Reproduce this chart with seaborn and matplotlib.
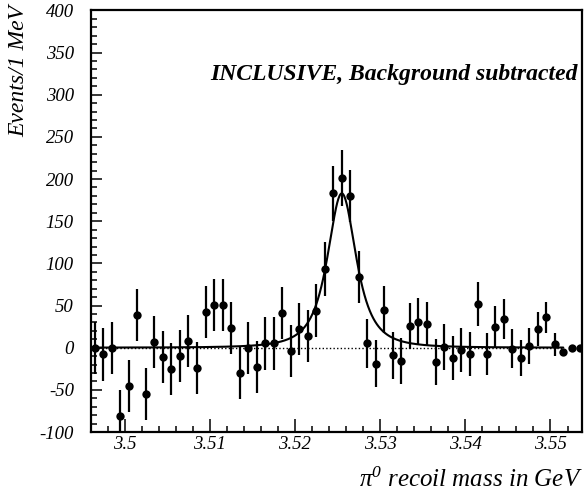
import numpy as np
import pandas as pd
import seaborn as sns
import matplotlib.pyplot as plt
from matplotlib.ticker import MultipleLocator

sns.set_theme(style="ticks")
plt.rcParams['font.family'] = ['Liberation Serif', 'DejaVu Serif']
plt.rcParams['font.style'] = 'italic'
plt.rcParams['mathtext.fontset'] = 'custom'
plt.rcParams['mathtext.rm'] = 'Liberation Serif'
plt.rcParams['mathtext.it'] = 'Liberation Serif:italic'
plt.rcParams['axes.unicode_minus'] = False
plt.rcParams['text.color'] = 'black'
plt.rcParams['xtick.color'] = 'black'
plt.rcParams['ytick.color'] = 'black'
plt.rcParams['xtick.labelcolor'] = 'black'
plt.rcParams['ytick.labelcolor'] = 'black'

# bin centres (GeV), 1 MeV bins
mass = [3.4965, 3.4975, 3.4985, 3.4995, 3.5005, 3.5015, 3.5025, 3.5035, 3.5045, 3.5055,
        3.5065, 3.5075, 3.5085, 3.5095, 3.5105, 3.5115, 3.5125, 3.5135, 3.5145, 3.5155,
        3.5165, 3.5175, 3.5185, 3.5195, 3.5205, 3.5215, 3.5225, 3.5235, 3.5245, 3.5255,
        3.5265, 3.5275, 3.5285, 3.5295, 3.5305, 3.5315, 3.5325, 3.5335, 3.5345, 3.5355,
        3.5365, 3.5375, 3.5385, 3.5395, 3.5405, 3.5415, 3.5425, 3.5435, 3.5445, 3.5455,
        3.5465, 3.5475, 3.5485, 3.5495, 3.5505, 3.5515, 3.5525, 3.5535]
events = [0, -8, 0, -81, -45, 39, -55, 7, -11, -25,
          -10, 8, -24, 42, 51, 51, 23, -30, 0, -23,
          5, 5, 41, -4, 22, 14, 44, 93, 183, 201,
          180, 84, 5, -19, 45, -9, -16, 26, 31, 28,
          -17, 1, -12, -3, -7, 52, -7, 25, 34, -1,
          -12, 2, 22, 36, 4, -5, 0, 0]
errors = [31, 31, 31, 31, 31, 31, 31, 31, 31, 31,
          31, 31, 31, 31, 31, 31, 31, 31, 31, 31,
          31, 31, 31, 31, 31, 31, 31, 32, 33, 33,
          31, 31, 29, 28, 28, 28, 27, 27, 28, 26,
          27, 27, 26, 26, 26, 26, 25, 25, 24, 23,
          21, 21, 20, 18, 14, 2, 0, 0]

# fitted peak
peak_mass = 3.5255
peak_height = 183
peak_width = 0.0026
peak_power = 1.5
fit_lo, fit_hi = 3.496, 3.5515

df = pd.DataFrame({"mass": mass, "events": events, "err": errors})

fig, ax = plt.subplots(figsize=(5.84, 4.96), dpi=100)
fig.subplots_adjust(left=0.155, right=0.9966, bottom=0.129, top=0.979)

fit_x = np.linspace(fit_lo, fit_hi, 800)
fit_y = peak_height / (1 + ((fit_x - peak_mass) / peak_width) ** 2) ** peak_power
ax.hlines(0, fit_lo, fit_hi, colors='black', linewidth=1.0, linestyles=(0, (1, 1.6)))
sns.lineplot(x=fit_x, y=fit_y, color='black', linewidth=1.5, ax=ax)

ax.errorbar(df["mass"], df["events"], yerr=df["err"], fmt='none',
            ecolor='black', elinewidth=1.6, capsize=0, zorder=3)
sns.scatterplot(data=df, x="mass", y="events", color='black', s=36,
                linewidth=0, ax=ax, zorder=4)

ax.set_xlim(3.496, 3.5537)
ax.set_ylim(-100, 400)

ax.set_xticks([3.50, 3.51, 3.52, 3.53, 3.54, 3.55])
ax.set_xticklabels(["3.5", "3.51", "3.52", "3.53", "3.54", "3.55"])
ax.xaxis.set_minor_locator(MultipleLocator(0.002))
ax.yaxis.set_major_locator(MultipleLocator(50))
ax.yaxis.set_minor_locator(MultipleLocator(10))

ax.tick_params(axis='both', which='both', direction='in', color='black', width=1.1,
               labelsize=13.5, labelcolor='black', top=False, right=False)
ax.tick_params(axis='x', which='major', length=9.5, pad=3)
ax.tick_params(axis='x', which='minor', length=4.5)
ax.tick_params(axis='y', which='major', length=8, pad=12)
ax.tick_params(axis='y', which='minor', length=4.5)

for sp in ax.spines.values():
    sp.set_visible(True)
    sp.set_color('black')
    sp.set_linewidth(1.6)

ax.set_xlabel("")
ax.set_ylabel("")

ax.text(0.992, 0.834, "INCLUSIVE, Background subtracted", transform=ax.transAxes,
        ha='right', va='baseline', fontsize=17, fontweight='bold', style='italic',
        color='black')

fig.text(0.998, 0.018, r"$\mathrm{\pi}^{\mathit{0}}$ recoil mass in GeV",
         ha='right', va='baseline', fontsize=18, color='black')
fig.text(0.033, 0.99, "Events/1 MeV", rotation=90, ha='center', va='top',
         fontsize=17, color='black')

fig.savefig("out.png", dpi=100, facecolor='white')
